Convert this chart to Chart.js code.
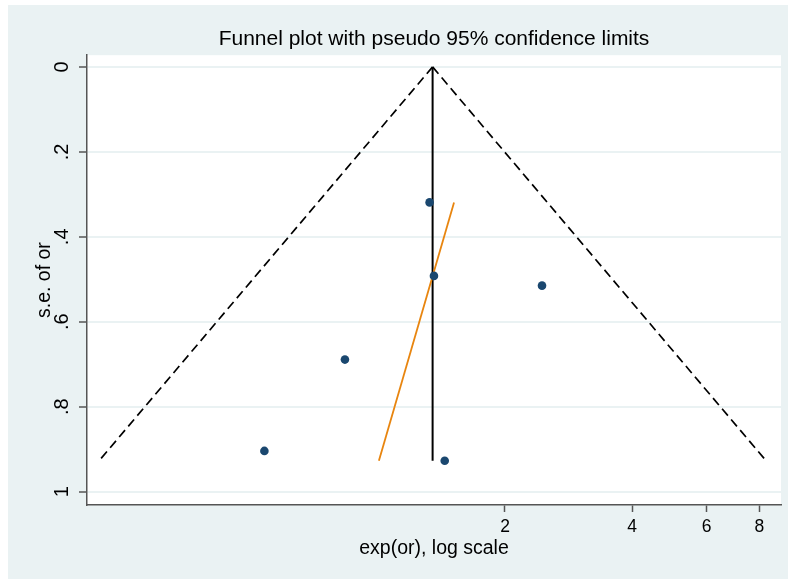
<!DOCTYPE html>
<html>
<head>
<meta charset="utf-8">
<title>Funnel plot</title>
<script src="https://cdn.jsdelivr.net/npm/chart.js@4.4.1/dist/chart.umd.min.js"></script>
<style>
  html, body { margin: 0; padding: 0; background: #ffffff; }
  #wrap { position: relative; width: 788px; height: 579px; }
</style>
</head>
<body>
<div id="wrap"><canvas id="funnel" width="788" height="579"></canvas></div>
<script>
// Study estimates: odds ratio and its standard error
const studyOR = [0.539, 0.836, 1.326, 1.358, 1.440, 2.447];
const studySE = [0.904, 0.689, 0.319, 0.492, 0.927, 0.515];

// Pooled (fixed-effect) odds ratio
const pooledOR = 1.348;

// Regression line endpoints (orange)
const regOR = [1.006, 1.515];
const regSE = [0.927, 0.319];

// Axis ticks
const xTickValues = [2, 4, 6, 8];
const xTickLabels = ['2', '4', '6', '8'];
const yTickValues = [0, 0.2, 0.4, 0.6, 0.8, 1];
const yTickLabels = ['0', '.2', '.4', '.6', '.8', '1'];

// Pseudo 95% confidence limits around the pooled estimate
const Z95 = 1.96;
const maxSE = Math.max(...studySE);
const lnPooled = Math.log(pooledOR);
const lowerLimit = Math.exp(lnPooled - Z95 * maxSE);
const upperLimit = Math.exp(lnPooled + Z95 * maxSE);

const FONT = "'Liberation Sans', Arial, sans-serif";
const BG = '#eaf2f3';

const backdrop = {
  id: 'backdrop',
  beforeDraw(chart) {
    const { ctx, chartArea: a } = chart;
    ctx.save();
    ctx.fillStyle = '#ffffff';
    ctx.fillRect(0, 0, chart.width, chart.height);
    ctx.fillStyle = BG;
    ctx.fillRect(8, 5, chart.width - 8, chart.height - 5);
    ctx.fillStyle = '#ffffff';
    ctx.fillRect(a.left, a.top, a.right - a.left, a.bottom - a.top);
    ctx.restore();
  }
};

const points = studyOR.map((x, i) => ({ x, y: studySE[i] }));

new Chart(document.getElementById('funnel'), {
  type: 'scatter',
  data: {
    datasets: [
      {
        label: 'lower limit',
        data: [{ x: pooledOR, y: 0 }, { x: lowerLimit, y: maxSE }],
        showLine: true, borderColor: '#000000', borderWidth: 1.7,
        borderDash: [9, 5], pointRadius: 0, order: 3
      },
      {
        label: 'upper limit',
        data: [{ x: pooledOR, y: 0 }, { x: upperLimit, y: maxSE }],
        showLine: true, borderColor: '#000000', borderWidth: 1.7,
        borderDash: [9, 5], pointRadius: 0, order: 3
      },
      {
        label: 'pooled',
        data: [{ x: pooledOR, y: 0 }, { x: pooledOR, y: maxSE }],
        showLine: true, borderColor: '#000000', borderWidth: 2,
        pointRadius: 0, order: 2
      },
      {
        label: 'regression',
        data: regOR.map((x, i) => ({ x, y: regSE[i] })),
        showLine: true, borderColor: '#e8850f', borderWidth: 1.8,
        pointRadius: 0, order: 1
      },
      {
        label: 'studies',
        data: points,
        showLine: false, pointRadius: 4.3,
        pointBackgroundColor: '#1a476f', pointBorderColor: '#1a476f',
        pointBorderWidth: 0, order: 0
      }
    ]
  },
  options: {
    responsive: false,
    animation: false,
    layout: { padding: { left: 0, right: 7, top: 0, bottom: 0 } },
    plugins: {
      legend: { display: false },
      tooltip: { enabled: false },
      title: {
        display: true,
        fullSize: false,
        text: 'Funnel plot with pseudo 95% confidence limits',
        color: '#000000',
        font: { family: FONT, size: 21, weight: 'normal', lineHeight: 1.2 },
        padding: { top: 27, bottom: 3 }
      }
    },
    scales: {
      x: {
        type: 'logarithmic',
        min: 0.205,
        max: 9.0,
        afterBuildTicks(scale) { scale.ticks = xTickValues.map(v => ({ value: v })); },
        afterFit(scale) { scale.height = 74; },
        ticks: {
          autoSkip: false,
          maxRotation: 0,
          padding: 5,
          color: '#000000',
          font: { family: FONT, size: 17.5 },
          callback(value) {
            const i = xTickValues.indexOf(value);
            return i >= 0 ? xTickLabels[i] : '';
          }
        },
        grid: { drawOnChartArea: false, tickLength: 7, tickColor: '#555555', tickWidth: 1.5 },
        border: { color: '#555555', width: 1.5 },
        title: {
          display: true,
          text: 'exp(or), log scale',
          color: '#000000',
          font: { family: FONT, size: 19.5 },
          padding: { top: 0, bottom: 19 }
        }
      },
      y: {
        type: 'linear',
        reverse: true,
        min: -0.0275,
        max: 1.0313,
        afterBuildTicks(scale) { scale.ticks = yTickValues.map(v => ({ value: v })); },
        afterFit(scale) { scale.width = 87; },
        ticks: {
          autoSkip: false,
          minRotation: 90,
          maxRotation: 90,
          crossAlign: 'center',
          padding: 8,
          color: '#000000',
          font: { family: FONT, size: 20 },
          callback(value) {
            const i = yTickValues.findIndex(v => Math.abs(v - value) < 1e-9);
            return i >= 0 ? yTickLabels[i] : '';
          }
        },
        grid: { color: BG, lineWidth: 2, tickLength: 8, tickColor: '#555555', tickWidth: 1.5 },
        border: { color: '#555555', width: 1.5 },
        title: {
          display: true,
          text: 's.e. of or',
          color: '#000000',
          font: { family: FONT, size: 19.5 },
          padding: { top: 33, bottom: 0 }
        }
      }
    }
  },
  plugins: [backdrop]
});
</script>
</body>
</html>
